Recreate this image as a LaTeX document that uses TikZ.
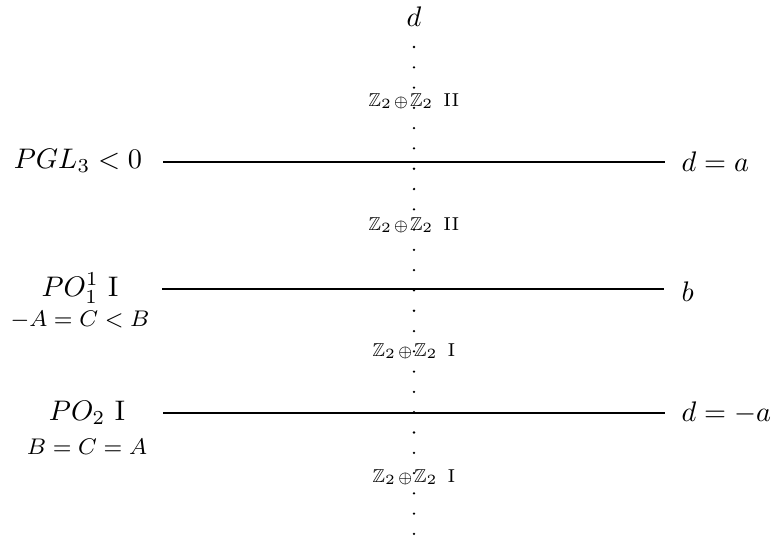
\documentclass[tikz,border=0pt]{standalone}
\usepackage{amssymb}
\begin{document}
\begin{tikzpicture}[x=0.3534pt,y=-0.3534pt,
  mainlab/.style={inner sep=0pt},
  sublab/.style={inner sep=0pt,font=\footnotesize},
  zlab/.style={inner sep=0pt,font=\fontsize{6.6}{8}\selectfont},
  level/.style={line width=0.4pt},
  dotline/.style={line width=0.9pt,line cap=round,dash pattern=on 0pt off 7.17pt}]
\useasboundingbox (0,0) rectangle (772,536);
% vertical dotted axis
\node[mainlab] (d) at (414,17) {$d$};
\coordinate (vtop) at (414,47);
\coordinate (vbot) at (414,536);
\draw[dotline] (vtop) -- (vbot);
% Z labels
\newcommand{\zz}{$\mathbb{Z}_2\mskip1mu{\scriptstyle\oplus}\mskip1mu\mathbb{Z}_2$\hspace{3.5pt}}
\node[zlab] (z1) at (414,101) {\zz II};
\node[zlab] (z2) at (414,225) {\zz II};
\node[zlab] (z3) at (414,351) {\zz I};
\node[zlab] (z4) at (414,477) {\zz I};
% left labels
\node[mainlab] (l1) at (78,161) {$PGL_3<0$};
\node[mainlab] (l2) at (80,288) {$PO_1^1$ I};
\node[sublab] (l2s) at (80,320) {$-A=C<B$};
\node[mainlab] (l3) at (87,413) {$PO_2$ I};
\node[sublab] (l3s) at (87,447) {$B=C=A$};
% right labels
\node[mainlab,anchor=west] (r1) at (681,162) {$d=a$};
\node[mainlab,anchor=west] (r2) at (681,292) {$b$};
\node[mainlab,anchor=west] (r3) at (681,413) {$d=-a$};
% level lines
\coordinate (a1) at (163,162); \coordinate (b1) at (665,162);
\coordinate (a2) at (162,289); \coordinate (b2) at (664,289);
\coordinate (a3) at (163,413); \coordinate (b3) at (665,413);
\draw[level] (a1) -- (b1);
\draw[level] (a2) -- (b2);
\draw[level] (a3) -- (b3);
\end{tikzpicture}
\end{document}
